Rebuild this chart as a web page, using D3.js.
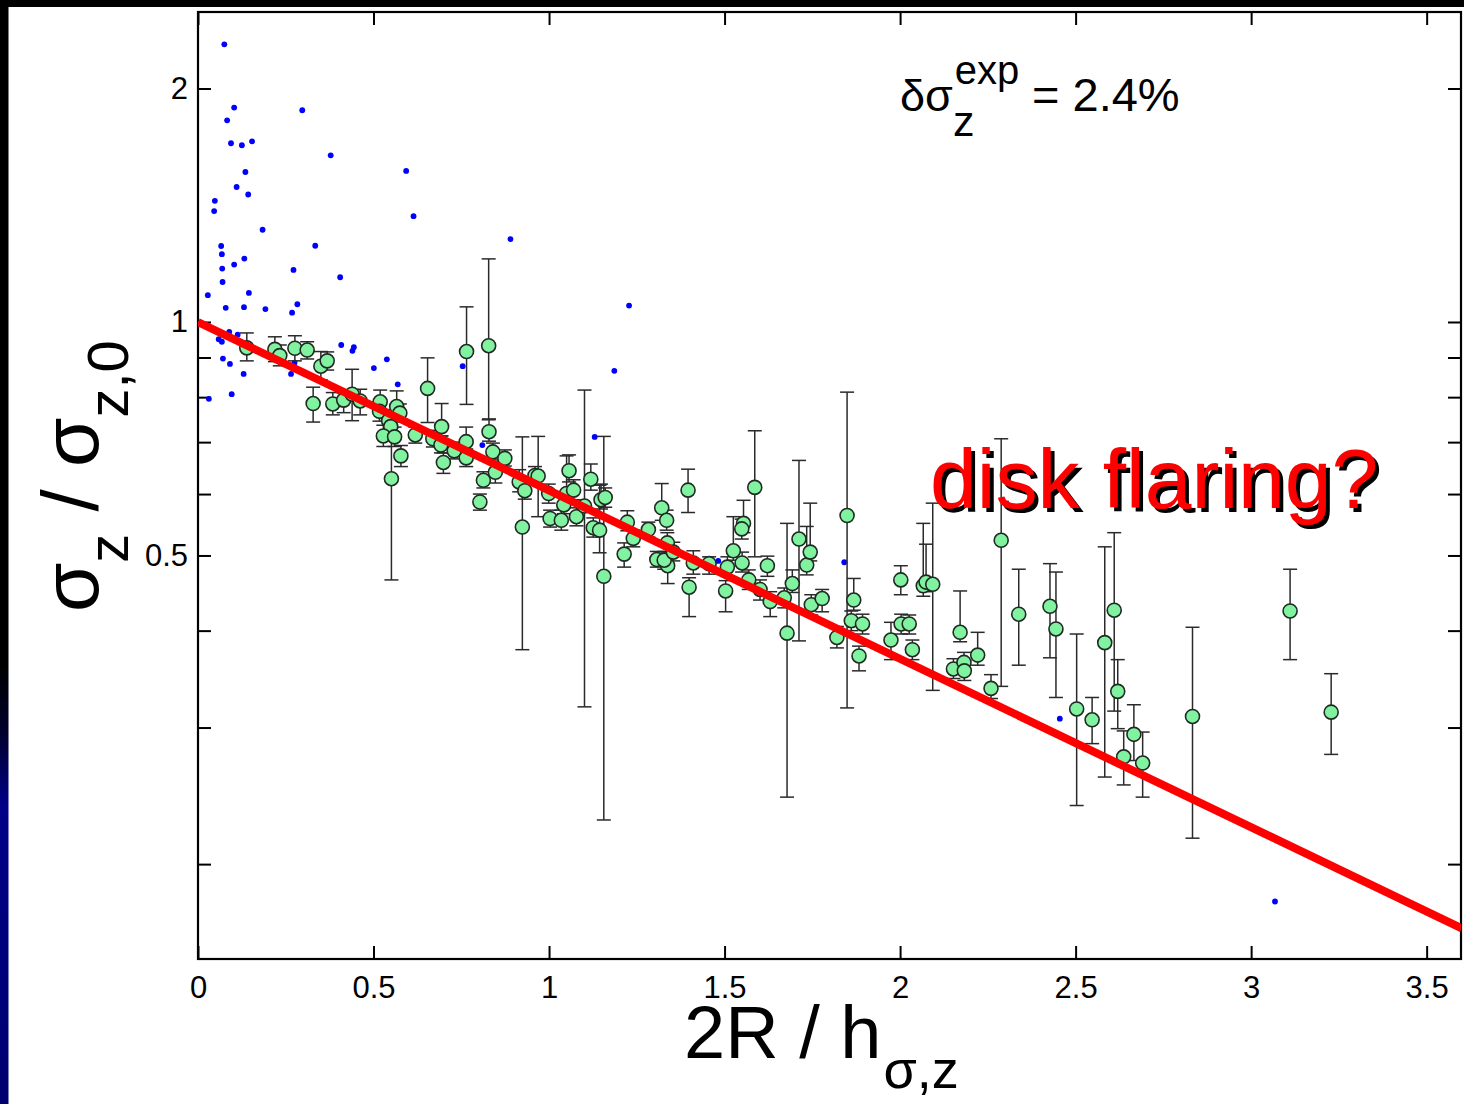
<!DOCTYPE html>
<html><head><meta charset="utf-8">
<script src="https://cdn.jsdelivr.net/npm/d3@7"></script>
<style>
body{margin:0;background:#fff}
svg{display:block}
text{font-family:"Liberation Sans",Arial,sans-serif}
</style>
</head><body>
<script>
// ---------- data ----------
const xTickValues=[0,0.5,1,1.5,2,2.5,3,3.5];
const yTickValues=[0.2,0.3,0.4,0.5,0.6,0.7,0.8,0.9,1,2];
const yLabeledTicks=[0.5,1,2];

const blueX=[0.075,0.103,0.297,0.083,0.094,0.125,0.154,0.378,0.593,0.135,0.110,0.143,0.048,0.046,0.614,0.184,0.890,0.066,0.334,0.068,0.132,0.103,0.069,0.272,0.405,0.070,0.028,0.145,0.079,0.131,0.192,0.283,0.268,1.228,1.186,1.130,1.482,1.841,2.455,3.068,0.089,0.113,0.059,0.068,0.071,0.091,0.130,0.278,0.265,0.408,0.440,0.444,0.501,0.538,0.275,0.096,0.031,0.569,0.754,0.810];
const blueY=[2.28,1.89,1.875,1.82,1.70,1.69,1.71,1.64,1.566,1.561,1.493,1.46,1.433,1.39,1.369,1.315,1.279,1.253,1.254,1.223,1.207,1.186,1.172,1.167,1.142,1.126,1.083,1.090,1.043,1.045,1.039,1.054,1.028,1.050,0.865,0.711,0.492,0.490,0.308,0.179,0.971,0.963,0.950,0.943,0.897,0.883,0.857,0.933,0.857,0.934,0.918,0.928,0.872,0.895,0.886,0.807,0.796,0.831,0.877,0.694];

const greenX=[0.139,0.219,0.233,0.276,0.311,0.350,0.368,0.328,0.384,0.415,0.439,0.462,0.519,0.517,0.566,0.575,0.543,0.549,0.528,0.560,0.578,0.551,0.619,0.654,0.669,0.694,0.692,0.699,0.730,0.764,0.764,0.765,0.828,0.829,0.840,0.847,0.874,0.813,0.803,0.915,0.924,0.931,0.960,0.969,0.999,1.003,1.035,1.042,1.050,1.057,1.070,1.078,1.101,1.119,1.126,1.144,1.148,1.160,1.156,1.214,1.223,1.240,1.283,1.307,1.321,1.335,1.337,1.338,1.328,1.354,1.396,1.411,1.399,1.456,1.503,1.508,1.525,1.554,1.549,1.550,1.586,1.569,1.601,1.622,1.630,1.670,1.678,1.693,1.712,1.734,1.744,1.747,1.778,1.820,1.849,1.868,1.861,1.893,1.883,1.974,2.002,2.003,2.026,2.035,2.066,2.074,2.093,2.152,2.171,2.182,2.183,2.221,2.259,2.288,2.338,2.427,2.444,2.503,2.547,2.583,2.610,2.620,2.637,2.666,2.691,2.833,3.111,3.228];
const greenY=[0.926,0.922,0.905,0.925,0.920,0.877,0.891,0.785,0.784,0.793,0.807,0.791,0.789,0.767,0.778,0.763,0.746,0.733,0.713,0.711,0.672,0.628,0.715,0.821,0.707,0.733,0.694,0.659,0.682,0.701,0.668,0.916,0.932,0.722,0.680,0.640,0.667,0.625,0.586,0.622,0.544,0.606,0.634,0.633,0.601,0.558,0.555,0.581,0.601,0.643,0.607,0.561,0.579,0.627,0.543,0.539,0.590,0.594,0.470,0.502,0.552,0.526,0.540,0.494,0.576,0.555,0.519,0.485,0.493,0.505,0.607,0.489,0.455,0.488,0.450,0.483,0.507,0.550,0.541,0.489,0.612,0.465,0.452,0.485,0.436,0.441,0.397,0.460,0.525,0.486,0.505,0.432,0.440,0.392,0.563,0.438,0.412,0.408,0.371,0.389,0.465,0.408,0.408,0.378,0.457,0.462,0.459,0.357,0.398,0.364,0.355,0.372,0.337,0.523,0.420,0.430,0.402,0.317,0.307,0.386,0.425,0.334,0.275,0.294,0.270,0.310,0.424,0.314];
const greenLo=[0.891,0.889,0.878,0.891,0.896,0.842,0.867,0.743,0.759,0.764,0.746,0.759,0.766,0.745,0.757,0.743,0.725,0.704,0.691,0.691,0.651,0.465,0.698,0.742,0.690,0.713,0.678,0.638,0.666,0.684,0.651,0.783,0.748,0.702,0.664,0.620,0.652,0.611,0.572,0.604,0.378,0.591,0.618,0.561,0.584,0.544,0.539,0.566,0.586,0.622,0.590,0.546,0.319,0.607,0.528,0.504,0.574,0.577,0.228,0.483,0.538,0.513,0.528,0.483,0.555,0.539,0.505,0.460,0.480,0.492,0.568,0.473,0.417,0.473,0.423,0.470,0.493,0.535,0.525,0.476,0.498,0.452,0.438,0.470,0.417,0.428,0.244,0.448,0.388,0.472,0.492,0.419,0.423,0.380,0.318,0.425,0.400,0.396,0.355,0.367,0.445,0.396,0.396,0.367,0.443,0.449,0.335,0.347,0.387,0.354,0.345,0.361,0.327,0.339,0.361,0.369,0.328,0.238,0.286,0.259,0.315,0.299,0.253,0.272,0.244,0.216,0.367,0.277];
const greenHi=[0.968,0.957,0.934,0.960,0.943,0.916,0.915,0.824,0.811,0.810,0.869,0.819,0.817,0.789,0.815,0.784,0.771,0.757,0.736,0.732,0.693,0.730,0.732,0.899,0.725,0.785,0.713,0.678,0.700,0.732,0.686,1.046,1.206,0.750,0.698,0.660,0.684,0.641,0.600,0.645,0.711,0.622,0.651,0.712,0.618,0.572,0.572,0.597,0.672,0.674,0.626,0.576,0.817,0.656,0.559,0.616,0.618,0.611,0.712,0.519,0.571,0.539,0.552,0.506,0.619,0.572,0.535,0.499,0.506,0.520,0.646,0.507,0.468,0.498,0.464,0.498,0.561,0.589,0.557,0.505,0.724,0.479,0.465,0.499,0.449,0.454,0.550,0.479,0.663,0.545,0.584,0.445,0.452,0.405,0.812,0.467,0.424,0.420,0.382,0.410,0.485,0.420,0.419,0.389,0.550,0.517,0.584,0.368,0.450,0.375,0.366,0.398,0.351,0.707,0.480,0.488,0.476,0.396,0.328,0.513,0.535,0.367,0.297,0.321,0.296,0.404,0.480,0.352];

// exponential fit sigma = exp(-x/2), end points
const fitX=[0,3.6];
const fitY=[1.0,0.1653];

// ---------- layout ----------
const W=1464,H=1104;
const L=198,R=1461,T=12,B=959;

const svg=d3.select("body").append("svg").attr("width",W).attr("height",H);
const defs=svg.append("defs");
const grad=defs.append("linearGradient").attr("id","lg").attr("x1",0).attr("x2",0).attr("y1",0).attr("y2",1);
[[0,"#000"],[0.60,"#000"],[0.66,"#000028"],[0.73,"#000088"],[1,"#000070"]].forEach(s=>grad.append("stop").attr("offset",s[0]).attr("stop-color",s[1]));
defs.append("clipPath").attr("id","clip").append("rect").attr("x",L).attr("y",T).attr("width",R-L).attr("height",B-T);
const sh=defs.append("filter").attr("id","shadow").attr("x","-5%").attr("y","-10%").attr("width","115%").attr("height","130%");
sh.append("feDropShadow").attr("dx",4).attr("dy",4).attr("stdDeviation",0.3).attr("flood-color","#000").attr("flood-opacity",1);

svg.append("rect").attr("width",W).attr("height",H).attr("fill","#fff");
svg.append("rect").attr("x",0).attr("y",0).attr("width",W).attr("height",7).attr("fill","#000");
svg.append("rect").attr("x",0).attr("y",0).attr("width",8.5).attr("height",H).attr("fill","url(#lg)");

const x=d3.scaleLinear().domain([0,3.595]).range([L,R-1]);
const y=d3.scaleLog().domain([0.1509,2.51]).range([B,T]);

// axes (inward ticks)
const tk=13;
const gxB=svg.append("g").attr("transform",`translate(0,${B})`)
  .call(d3.axisBottom(x).tickValues(xTickValues).tickSize(-tk).tickPadding(17).tickFormat(d3.format("")));
const gxT=svg.append("g").attr("transform",`translate(0,${T})`)
  .call(d3.axisTop(x).tickValues(xTickValues).tickSize(-tk).tickFormat(""));
const gyL=svg.append("g").attr("transform",`translate(${L},0)`)
  .call(d3.axisLeft(y).tickValues(yTickValues).tickSize(-tk).tickPadding(10)
    .tickFormat(d=>yLabeledTicks.includes(d)?String(d):""));
const gyR=svg.append("g").attr("transform",`translate(${R},0)`)
  .call(d3.axisRight(y).tickValues(yTickValues).tickSize(-tk).tickFormat(""));
[gxB,gxT,gyL,gyR].forEach(g=>{
  g.select(".domain").remove();
  g.selectAll(".tick line").attr("stroke","#000").attr("stroke-width",2);
  g.selectAll(".tick text").attr("font-size",31).attr("fill","#000").attr("font-family","'Liberation Sans',Arial,sans-serif");
});

// frame
svg.append("rect").attr("x",L).attr("y",T).attr("width",R-L).attr("height",B-T)
  .attr("fill","none").attr("stroke","#000").attr("stroke-width",2.2);

const plot=svg.append("g").attr("clip-path","url(#clip)");

// blue dots
plot.selectAll("circle.blue").data(d3.range(blueX.length)).join("circle")
  .attr("class","blue").attr("cx",i=>x(blueX[i])).attr("cy",i=>y(blueY[i])).attr("r",2.9).attr("fill","#0000ff");

// error bars
const idx=d3.range(greenX.length);
const cap=7;
const eb=plot.append("g").attr("stroke","#2a2a2a").attr("stroke-width",1.5);
eb.selectAll("line.v").data(idx).join("line").attr("class","v")
  .attr("x1",i=>x(greenX[i])).attr("x2",i=>x(greenX[i]))
  .attr("y1",i=>y(greenLo[i])).attr("y2",i=>y(greenHi[i]));
eb.selectAll("line.t").data(idx).join("line").attr("class","t")
  .attr("x1",i=>x(greenX[i])-cap).attr("x2",i=>x(greenX[i])+cap)
  .attr("y1",i=>y(greenHi[i])).attr("y2",i=>y(greenHi[i]));
eb.selectAll("line.b").data(idx).join("line").attr("class","b")
  .attr("x1",i=>x(greenX[i])-cap).attr("x2",i=>x(greenX[i])+cap)
  .attr("y1",i=>y(greenLo[i])).attr("y2",i=>y(greenLo[i]));

// green points
plot.selectAll("circle.g").data(idx).join("circle").attr("class","g")
  .attr("cx",i=>x(greenX[i])).attr("cy",i=>y(greenY[i])).attr("r",7)
  .attr("fill","#80f2a0").attr("stroke","#1e2a22").attr("stroke-width",1.6);

// fit line
plot.append("path").datum(d3.range(fitX.length))
  .attr("d",d3.line().x(i=>x(fitX[i])).y(i=>y(fitY[i])))
  .attr("stroke","#ff0000").attr("stroke-width",8).attr("fill","none");

// annotation
const ann=svg.append("text").attr("x",900).attr("y",111).attr("font-size",45).attr("fill","#000");
ann.append("tspan").text("δσ");
ann.append("tspan").attr("font-size",40).attr("dy",-27).attr("dx",2).text("exp");
ann.append("tspan").attr("font-size",43).attr("x",953).attr("dy",52).text("z");
ann.append("tspan").attr("font-size",47).attr("x",1032).attr("dy",-25).text("= 2.4%");

// disk flaring?
svg.append("text").attr("x",930).attr("y",508).attr("font-size",84).attr("fill","#ff0000")
  .attr("filter","url(#shadow)").text("disk flaring?");

// x title
const xt=svg.append("text").attr("x",684).attr("y",1058).attr("font-size",74).attr("fill","#000");
xt.append("tspan").text("2R / h");
xt.append("tspan").attr("font-size",54).attr("dy",30).attr("dx",2).text("σ,z");

// y title
const yt=svg.append("text").attr("transform","translate(98,612) rotate(-90)").attr("font-size",80).attr("fill","#000");
yt.append("tspan").text("σ");
yt.append("tspan").attr("font-size",58).attr("dy",30).text("z");
yt.append("tspan").attr("dy",-30).text(" / σ");
yt.append("tspan").attr("font-size",58).attr("dy",30).text("z,0");
</script>
</body></html>
